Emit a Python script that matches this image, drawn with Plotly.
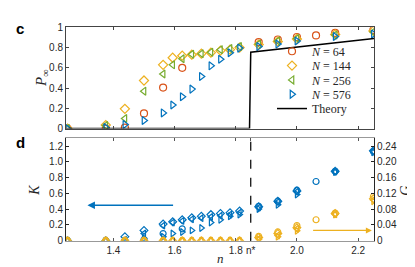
import plotly.graph_objects as go

# ---------------- data ----------------
n_64 = [1.25, 1.375, 1.4375, 1.5, 1.5625, 1.625, 1.875, 1.9375, 2.0, 2.0625, 2.125, 2.25]
n_big = [1.25, 1.375, 1.4375, 1.5, 1.5625, 1.59375, 1.625, 1.65625, 1.6875, 1.71875,
         1.75, 1.78125, 1.8125, 1.875, 1.9375, 2.0, 2.125, 2.25]

P_64 = [0, 0, 0.01, 0.15, 0.405, 0.60, 0.855, 0.88, 0.905, 0.92, 0.945, 0.975]
P_144 = [0, 0.035, 0.195, 0.475, 0.63, 0.70, 0.72, 0.73, 0.74, 0.75, 0.77, 0.78, 0.80, 0.83, 0.86, 0.885, 0.93, 0.965]
P_256 = [0, 0.03, 0.10, 0.37, 0.54, 0.63, 0.69, 0.735, 0.74, 0.755, 0.78, 0.79, 0.81, 0.835, 0.865, 0.89, 0.925, 0.955]
P_576 = [0, 0.01, 0.04, 0.08, 0.155, 0.233, 0.315, 0.39, 0.515, 0.62, 0.685, 0.75, 0.795, 0.81, 0.835, 0.865, 0.91, 0.935]

K_64 = [0, 0, 0, 0.01, 0.09, 0.15, 0.435, 0.50, 0.64, 0.75, 0.88, 1.13]
K_144 = [0, 0, 0.05, 0.13, 0.21, 0.24, 0.265, 0.29, 0.31, 0.33, 0.345, 0.355, 0.375, 0.43, 0.50, 0.63, 0.88, 1.14]
K_256 = [0, 0, 0.01, 0.09, 0.19, 0.23, 0.25, 0.27, 0.285, 0.30, 0.315, 0.33, 0.355, 0.42, 0.49, 0.62, 0.875, 1.13]
K_576 = [0, 0, 0, 0.03, 0.05, 0.09, 0.11, 0.13, 0.16, 0.23, 0.265, 0.31, 0.33, 0.40, 0.455, 0.585, 0.87, 1.12]

G_64 = [0, 0, 0, 0, 0, 0, 0.011, 0.022, 0.038, 0.053, 0.070, 0.112]
G_144 = [0, 0, 0, 0, 0, 0, 0, 0, 0, 0, 0, 0, 0, 0.008, 0.018, 0.033, 0.069, 0.106]
G_256 = [0, 0, 0, 0, 0, 0, 0, 0, 0, 0, 0, 0, 0, 0.005, 0.013, 0.030, 0.067, 0.103]
G_576 = [0, 0, 0, 0, 0, 0, 0, 0, 0, 0, 0, 0, 0, 0.003, 0.010, 0.025, 0.066, 0.100]

theory_n = [1.245, 1.845, 1.849, 2.252]
theory_P = [0, 0, 0.755, 0.89]

n_star = 1.849
x_ticks = [1.4, 1.6, 1.8, n_star, 2.0, 2.2]
x_ticktext = ["1.4", "1.6", "1.8", "n*", "2.0", "2.2"]
K_ticks = [0, 0.2, 0.4, 0.6, 0.8, 1.0, 1.2]
K_ticktext = ["0", "0.2", "0.4", "0.6", "0.8", "1.0", "1.2"]
G_ticks = [0, 0.04, 0.08, 0.12, 0.16, 0.20, 0.24]
G_ticktext = ["0", "0.04", "0.08", "0.12", "0.16", "0.20", "0.24"]
P_ticks = [0, 0.2, 0.4, 0.6, 0.8, 1]
P_ticktext = ["0", "0.2", "0.4", "0.6", "0.8", "1"]

labels = ["<i>N</i> = 64", "<i>N</i> = 144", "<i>N</i> = 256", "<i>N</i> = 576"]
colors_c = ["#D95319", "#EDB120", "#77AC30", "#0072BD"]
symbols = ["circle-open", "diamond-open", "triangle-left-open", "triangle-right-open"]
BLUE = "#0072BD"
ORANGE = "#EDB120"

W, H = 415, 267
def px_x(p):
    return p / W
def px_y(p):
    return 1 - p / H

fig = go.Figure()

legend_ids = ["legend", "legend2", "legend3", "legend4", "legend5"]
legend_rows = [39, 54, 69, 84, 99]

# ---------- panel c ----------
xs = [n_64, n_big, n_big, n_big]
Ps = [P_64, P_144, P_256, P_576]
Ks = [K_64, K_144, K_256, K_576]
Gs = [G_64, G_144, G_256, G_576]
for i in range(4):
    fig.add_trace(go.Scatter(
        x=xs[i], y=Ps[i], mode="markers", name=labels[i], legend=legend_ids[i],
        marker=dict(symbol=symbols[i], size=7, color=colors_c[i], line=dict(width=1.2)),
        xaxis="x2", yaxis="y3"))
fig.add_trace(go.Scatter(
    x=theory_n, y=theory_P, mode="lines", name="Theory", legend=legend_ids[4],
    line=dict(color="black", width=1.5), xaxis="x2", yaxis="y3"))

# ---------- panel d ----------
for i in range(4):
    fig.add_trace(go.Scatter(
        x=xs[i], y=Ks[i], mode="markers", showlegend=False,
        marker=dict(symbol=symbols[i], size=6, color=BLUE, line=dict(width=1.2)),
        xaxis="x", yaxis="y"))
for i in range(4):
    fig.add_trace(go.Scatter(
        x=xs[i], y=Gs[i], mode="markers", showlegend=False,
        marker=dict(symbol=symbols[i], size=6, color=ORANGE, line=dict(width=1.2)),
        xaxis="x", yaxis="y2"))

tickfont = dict(family="Liberation Sans, Arial", size=10, color="#262626")
serif = "Liberation Serif, DejaVu Serif, serif"
titlefont = dict(family=serif, size=14, color="#262626")

xdom = [px_x(58), px_x(366)]
ddom = [px_y(237.3), px_y(130)]
cdom = [px_y(120), px_y(14)]
xrange = [1.245, 2.252]

legend_style = dict(xanchor="left", yanchor="middle", bgcolor="rgba(0,0,0,0)",
                    font=dict(family=serif, size=12, color="#262626"), itemwidth=30,
                    borderwidth=0)
layout_legends = {}
for lid, row in zip(legend_ids, legend_rows):
    layout_legends[lid] = dict(x=px_x(264), y=px_y(row), **legend_style)

fig.update_layout(
    width=W, height=H,
    margin=dict(l=0, r=0, t=0, b=0),
    paper_bgcolor="white", plot_bgcolor="white",
    showlegend=True,
    **layout_legends,
    xaxis=dict(domain=xdom, anchor="y", range=xrange, tickvals=x_ticks, ticktext=x_ticktext,
               ticks="inside", ticklen=3, tickcolor="#555", showline=True, linecolor="#999",
               linewidth=1, mirror="ticks", showgrid=False, zeroline=False, tickfont=tickfont),
    yaxis=dict(domain=ddom, anchor="x", range=[0, 1.3], tickvals=K_ticks, ticktext=K_ticktext,
               ticks="inside", ticklen=3, tickcolor="#262626", showline=True, linecolor="#262626",
               linewidth=1, showgrid=False, zeroline=False, tickfont=tickfont),
    yaxis2=dict(overlaying="y", anchor="x", side="right", range=[0, 0.26], tickvals=G_ticks,
                ticktext=G_ticktext, ticks="inside", ticklen=3, tickcolor="#262626",
                showline=True, linecolor="#262626", linewidth=1, showgrid=False, zeroline=False,
                tickfont=tickfont),
    xaxis2=dict(domain=xdom, anchor="y3", range=xrange, tickvals=[1.4, 1.6, 1.8, 2.0, 2.2],
                showticklabels=False, ticks="inside", ticklen=3, tickcolor="#444",
                showline=True, linecolor="#444", linewidth=1, mirror="ticks",
                showgrid=False, zeroline=False),
    yaxis3=dict(domain=cdom, anchor="x2", range=[0, 1], tickvals=P_ticks, ticktext=P_ticktext,
                ticks="inside", ticklen=3, tickcolor="#444", showline=True, linecolor="#444",
                linewidth=1, mirror="ticks", showgrid=False, zeroline=False, tickfont=tickfont),
)

# axis titles as annotations
fig.add_annotation(xref="paper", yref="paper", x=px_x(212), y=px_y(256), text="<i>n</i>",
                   showarrow=False, font=dict(family=serif, size=13, color="#262626"),
                   xanchor="center", yanchor="middle")
fig.add_annotation(xref="paper", yref="paper", x=px_x(27), y=px_y(185), text="<i>K</i>",
                   showarrow=False, font=titlefont, textangle=-90, xanchor="center", yanchor="middle")
fig.add_annotation(xref="paper", yref="paper", x=px_x(398), y=px_y(185), text="<i>G</i>",
                   showarrow=False, font=titlefont, textangle=-90, xanchor="center", yanchor="middle")
fig.add_annotation(xref="paper", yref="paper", x=px_x(34), y=px_y(67), text="<i>P</i><sub>∞</sub>",
                   showarrow=False, font=dict(family=serif, size=15, color="#262626"), textangle=-90,
                   xanchor="center", yanchor="middle")

# dashed n* line in panel d
fig.add_shape(type="line", xref="x", yref="y domain", x0=n_star, x1=n_star, y0=0, y1=1,
              line=dict(color="black", width=1.2, dash="dash"))

# arrows
fig.add_annotation(xref="x", yref="y", axref="x", ayref="y", x=1.315, y=0.45, ax=1.6, ay=0.45,
                   showarrow=True, arrowhead=2, arrowsize=1, arrowwidth=1.5, arrowcolor=BLUE, text="")
fig.add_annotation(xref="x", yref="y2", axref="x", ayref="y2", x=2.245, y=0.026, ax=2.048, ay=0.026,
                   showarrow=True, arrowhead=2, arrowsize=1, arrowwidth=1.2, arrowcolor=ORANGE, text="")

# panel letters
fig.add_annotation(xref="paper", yref="paper", x=px_x(6), y=px_y(4), xanchor="left", yanchor="top",
                   text="<b>c</b>", showarrow=False, font=dict(family="Liberation Sans, Arial", size=15, color="black"))
fig.add_annotation(xref="paper", yref="paper", x=px_x(6), y=px_y(124), xanchor="left", yanchor="top",
                   text="<b>d</b>", showarrow=False, font=dict(family="Liberation Sans, Arial", size=15, color="black"))

fig.write_html("out.html")
